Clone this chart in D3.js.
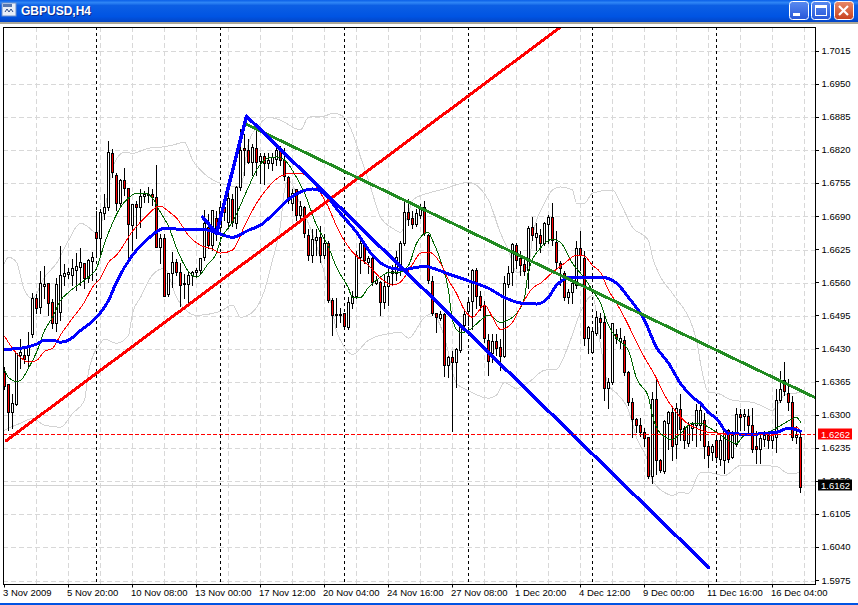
<!DOCTYPE html>
<html>
<head>
<meta charset="utf-8">
<script src="https://cdn.jsdelivr.net/npm/d3@7"></script>
<style>
  html, body { margin: 0; padding: 0; background: #fff; overflow: hidden; }
  text { font-family: "Liberation Sans", Arial, sans-serif; }
</style>
</head>
<body>
<div id="container"></div>
<script>
const width = 858,
  height = 605,
  margin = { top: 27, bottom: 584, left: 3, right: 815 };

/** -------------- DATA -------------- */

const highs = [
  1.6396,1.6360,1.6343,1.6421,1.6451,1.6433,1.6466,1.6541,1.6539,1.6584,
  1.6594,1.6561,1.6529,1.6571,1.6633,1.6598,1.6590,1.6608,1.6620,1.6631,
  1.6600,1.6608,1.6622,1.6702,1.6706,1.6736,1.6840,1.6824,1.6777,1.6765,
  1.6787,1.6746,1.6716,1.6722,1.6746,1.6742,1.6750,1.6746,1.6793,1.6657,
  1.6657,1.6580,1.6622,1.6608,1.6600,1.6579,1.6584,1.6584,1.6590,1.6610,
  1.6704,1.6696,1.6704,1.6702,1.6716,1.6722,1.6738,1.6736,1.6752,1.6864,
  1.6854,1.6844,1.6834,1.6860,1.6816,1.6816,1.6816,1.6816,1.6826,1.6830,
  1.6826,1.6771,1.6746,1.6746,1.6722,1.6712,1.6667,1.6667,1.6667,1.6673,
  1.6657,1.6643,1.6531,1.6531,1.6512,1.6502,1.6533,1.6545,1.6624,1.6647,
  1.6643,1.6614,1.6614,1.6575,1.6565,1.6579,1.6594,1.6596,1.6624,1.6643,
  1.6726,1.6726,1.6702,1.6706,1.6716,1.6722,1.6657,1.6575,1.6502,1.6506,
  1.6502,1.6417,1.6427,1.6433,1.6482,1.6506,1.6529,1.6588,1.6590,1.6545,
  1.6525,1.6461,1.6461,1.6461,1.6451,1.6575,1.6594,1.6639,1.6639,1.6624,
  1.6614,1.6673,1.6691,1.6679,1.6667,1.6681,1.6694,1.6718,1.6663,1.6604,
  1.6584,1.6549,1.6565,1.6643,1.6663,1.6624,1.6476,1.6474,1.6506,1.6502,
  1.6496,1.6374,1.6482,1.6470,1.6472,1.6457,1.6388,1.6335,1.6297,1.6297,
  1.6276,1.6258,1.6348,1.6372,1.6215,1.6293,1.6309,1.6319,1.6325,1.6343,
  1.6280,1.6289,1.6289,1.6323,1.6319,1.6305,1.6250,1.6246,1.6260,1.6266,
  1.6276,1.6274,1.6270,1.6315,1.6313,1.6313,1.6313,1.6315,1.6270,1.6266,
  1.6270,1.6266,1.6270,1.6354,1.6388,1.6407,1.6372,1.6339,1.6280,1.6266
];
const lows = [
  1.6352,1.6270,1.6274,1.6319,1.6392,1.6402,1.6394,1.6453,1.6500,1.6500,
  1.6529,1.6496,1.6470,1.6466,1.6486,1.6555,1.6569,1.6555,1.6545,1.6555,
  1.6549,1.6561,1.6565,1.6614,1.6614,1.6685,1.6702,1.6767,1.6702,1.6712,
  1.6732,1.6598,1.6624,1.6647,1.6669,1.6718,1.6718,1.6712,1.6630,1.6598,
  1.6533,1.6533,1.6551,1.6575,1.6514,1.6529,1.6520,1.6555,1.6571,1.6577,
  1.6604,1.6628,1.6624,1.6643,1.6653,1.6683,1.6667,1.6671,1.6667,1.6742,
  1.6771,1.6795,1.6771,1.6771,1.6755,1.6753,1.6785,1.6781,1.6791,1.6791,
  1.6761,1.6716,1.6702,1.6683,1.6687,1.6649,1.6604,1.6600,1.6614,1.6600,
  1.6608,1.6522,1.6457,1.6472,1.6482,1.6468,1.6468,1.6510,1.6529,1.6579,
  1.6598,1.6579,1.6555,1.6557,1.6496,1.6510,1.6516,1.6555,1.6565,1.6575,
  1.6633,1.6673,1.6667,1.6671,1.6687,1.6653,1.6559,1.6496,1.6464,1.6486,
  1.6376,1.6374,1.6268,1.6356,1.6423,1.6468,1.6476,1.6468,1.6510,1.6506,
  1.6443,1.6378,1.6404,1.6417,1.6388,1.6413,1.6551,1.6555,1.6588,1.6575,
  1.6575,1.6549,1.6643,1.6624,1.6620,1.6633,1.6637,1.6633,1.6588,1.6555,
  1.6525,1.6520,1.6520,1.6549,1.6584,1.6437,1.6421,1.6421,1.6457,1.6451,
  1.6329,1.6313,1.6360,1.6441,1.6431,1.6378,1.6319,1.6256,1.6266,1.6258,
  1.6240,1.6177,1.6166,1.6185,1.6189,1.6187,1.6234,1.6211,1.6215,1.6250,
  1.6236,1.6240,1.6250,1.6240,1.6250,1.6215,1.6197,1.6211,1.6207,1.6201,
  1.6187,1.6207,1.6215,1.6240,1.6270,1.6270,1.6264,1.6227,1.6205,1.6205,
  1.6240,1.6236,1.6236,1.6227,1.6325,1.6339,1.6309,1.6250,1.6246,1.6148
];
const opens = [
  1.6384,1.6360,1.6305,1.6321,1.6417,1.6417,1.6417,1.6459,1.6529,1.6512,
  1.6553,1.6559,1.6522,1.6480,1.6502,1.6573,1.6577,1.6575,1.6584,1.6590,
  1.6598,1.6569,1.6602,1.6659,1.6647,1.6696,1.6708,1.6814,1.6771,1.6716,
  1.6761,1.6746,1.6673,1.6714,1.6708,1.6730,1.6734,1.6734,1.6728,1.6630,
  1.6647,1.6537,1.6579,1.6600,1.6580,1.6557,1.6557,1.6575,1.6580,1.6584,
  1.6610,1.6669,1.6633,1.6687,1.6669,1.6708,1.6679,1.6724,1.6677,1.6748,
  1.6824,1.6820,1.6797,1.6824,1.6799,1.6809,1.6795,1.6795,1.6803,1.6820,
  1.6801,1.6767,1.6716,1.6744,1.6693,1.6708,1.6653,1.6614,1.6643,1.6649,
  1.6614,1.6637,1.6525,1.6498,1.6496,1.6500,1.6472,1.6520,1.6533,1.6610,
  1.6637,1.6600,1.6608,1.6559,1.6561,1.6522,1.6553,1.6579,1.6579,1.6594,
  1.6637,1.6698,1.6687,1.6675,1.6693,1.6708,1.6653,1.6563,1.6500,1.6490,
  1.6498,1.6398,1.6413,1.6404,1.6427,1.6476,1.6504,1.6523,1.6584,1.6533,
  1.6516,1.6447,1.6421,1.6445,1.6433,1.6415,1.6557,1.6580,1.6633,1.6608,
  1.6596,1.6584,1.6669,1.6649,1.6653,1.6637,1.6675,1.6689,1.6639,1.6598,
  1.6579,1.6531,1.6541,1.6555,1.6628,1.6608,1.6451,1.6423,1.6462,1.6490,
  1.6482,1.6354,1.6364,1.6459,1.6445,1.6447,1.6384,1.6325,1.6293,1.6280,
  1.6266,1.6256,1.6181,1.6331,1.6211,1.6191,1.6284,1.6305,1.6244,1.6311,
  1.6274,1.6246,1.6274,1.6280,1.6280,1.6291,1.6240,1.6227,1.6250,1.6213,
  1.6211,1.6270,1.6217,1.6244,1.6303,1.6299,1.6299,1.6280,1.6240,1.6234,
  1.6252,1.6260,1.6250,1.6256,1.6329,1.6368,1.6344,1.6325,1.6256,1.6256
];
const closes = [
  1.6358,1.6305,1.6323,1.6421,1.6423,1.6411,1.6433,1.6529,1.6510,1.6559,
  1.6557,1.6520,1.6480,1.6557,1.6575,1.6579,1.6580,1.6588,1.6592,1.6600,
  1.6569,1.6604,1.6610,1.6647,1.6698,1.6708,1.6816,1.6777,1.6716,1.6761,
  1.6746,1.6675,1.6714,1.6708,1.6730,1.6734,1.6732,1.6728,1.6630,1.6647,
  1.6533,1.6579,1.6600,1.6580,1.6555,1.6559,1.6575,1.6580,1.6584,1.6608,
  1.6677,1.6633,1.6702,1.6659,1.6708,1.6698,1.6726,1.6679,1.6748,1.6820,
  1.6820,1.6797,1.6826,1.6797,1.6809,1.6795,1.6801,1.6807,1.6820,1.6801,
  1.6769,1.6722,1.6736,1.6693,1.6710,1.6657,1.6614,1.6645,1.6649,1.6614,
  1.6637,1.6525,1.6496,1.6496,1.6498,1.6474,1.6522,1.6533,1.6614,1.6637,
  1.6604,1.6608,1.6561,1.6565,1.6522,1.6553,1.6573,1.6582,1.6610,1.6637,
  1.6698,1.6685,1.6675,1.6696,1.6706,1.6657,1.6565,1.6500,1.6492,1.6498,
  1.6398,1.6413,1.6404,1.6429,1.6476,1.6498,1.6522,1.6584,1.6533,1.6516,
  1.6451,1.6407,1.6445,1.6431,1.6415,1.6559,1.6579,1.6635,1.6604,1.6594,
  1.6582,1.6667,1.6653,1.6657,1.6637,1.6677,1.6689,1.6643,1.6600,1.6588,
  1.6531,1.6541,1.6559,1.6628,1.6614,1.6451,1.6472,1.6466,1.6492,1.6482,
  1.6354,1.6364,1.6480,1.6451,1.6451,1.6384,1.6325,1.6293,1.6280,1.6266,
  1.6254,1.6181,1.6331,1.6211,1.6193,1.6289,1.6305,1.6240,1.6313,1.6272,
  1.6250,1.6280,1.6282,1.6309,1.6309,1.6240,1.6221,1.6240,1.6217,1.6250,
  1.6270,1.6213,1.6260,1.6303,1.6297,1.6303,1.6280,1.6234,1.6234,1.6254,
  1.6260,1.6250,1.6260,1.6329,1.6352,1.6348,1.6325,1.6256,1.6260,1.6158
];

// moving averages and bands, read at the bars listed beside them
const slowBars = [0,4,8,10,12,14,16,19,23,26,28,32,36,40,44,49,52,57,61,64,67,71,74,77,79,84,88,92,95,97,100,103,105,108,111,114,117,121,125,129,133,136,138,142,149,153,156,160,163,166,169,172,174,176,178,181,187,190,193,196,199];
const slowMa = [1.6429,1.6431,1.6439,1.6447,1.6447,1.6443,1.6447,1.6466,1.6492,1.6525,1.6561,1.6614,1.6647,1.6667,1.6665,1.6665,1.6661,1.6649,1.6663,1.6673,1.6693,1.6724,1.6738,1.6744,1.6740,1.6696,1.6659,1.6614,1.6594,1.6588,1.6586,1.6590,1.6592,1.6586,1.6577,1.6569,1.6561,1.6549,1.6531,1.6520,1.6518,1.6531,1.6555,1.6571,1.6571,1.6559,1.6531,1.6486,1.6433,1.6402,1.6362,1.6335,1.6323,1.6305,1.6293,1.6264,1.6262,1.6264,1.6266,1.6274,1.6268];

const fastBars = [0,1,3,4,6,8,10,12,14,16,19,21,23,25,27,29,31,33,35,37,39,41,43,46,48,51,53,54,57,61,63,66,68,70,73,75,78,81,83,86,87,89,91,94,96,98,101,103,106,107,109,111,112,114,116,119,121,124,127,130,131,134,137,139,142,145,147,149,151,153,156,158,161,162,164,167,169,172,174,176,178,181,183,185,189,192,195,198,199];
const fastMa = [1.6388,1.6374,1.6366,1.6368,1.6392,1.6423,1.6466,1.6492,1.6525,1.6541,1.6559,1.6571,1.6588,1.6637,1.6677,1.6708,1.6726,1.6736,1.6736,1.6726,1.6698,1.6671,1.6628,1.6582,1.6571,1.6598,1.6618,1.6643,1.6679,1.6748,1.6781,1.6805,1.6807,1.6801,1.6767,1.6736,1.6673,1.6630,1.6590,1.6549,1.6531,1.6531,1.6551,1.6571,1.6580,1.6579,1.6594,1.6637,1.6659,1.6643,1.6604,1.6545,1.6486,1.6462,1.6466,1.6486,1.6496,1.6482,1.6492,1.6531,1.6584,1.6628,1.6645,1.6639,1.6598,1.6569,1.6545,1.6520,1.6476,1.6451,1.6427,1.6372,1.6335,1.6299,1.6264,1.6252,1.6264,1.6284,1.6284,1.6276,1.6266,1.6250,1.6244,1.6260,1.6262,1.6270,1.6284,1.6295,1.6286];

const midBars = [0,3,6,8,10,12,14,17,20,22,24,26,28,32,35,38,39,41,43,46,49,52,54,57,60,63,66,69,72,75,78,81,83,86,88,91,94,97,99,102,104,106,109,111,113,115,117,120,122,124,127,129,132,134,137,140,143,145,147,149,151,153,156,158,160,163,165,168,171,173,176,180,185,190,192,196,198,199];
const midMa = [1.6455,1.6421,1.6404,1.6407,1.6425,1.6431,1.6457,1.6490,1.6522,1.6551,1.6569,1.6600,1.6614,1.6661,1.6687,1.6708,1.6710,1.6700,1.6687,1.6653,1.6633,1.6626,1.6618,1.6624,1.6671,1.6716,1.6748,1.6769,1.6775,1.6773,1.6748,1.6708,1.6671,1.6630,1.6612,1.6594,1.6569,1.6555,1.6561,1.6596,1.6618,1.6620,1.6598,1.6565,1.6539,1.6506,1.6492,1.6516,1.6492,1.6468,1.6482,1.6512,1.6549,1.6559,1.6580,1.6598,1.6614,1.6612,1.6594,1.6580,1.6545,1.6520,1.6476,1.6443,1.6413,1.6372,1.6339,1.6305,1.6282,1.6274,1.6266,1.6264,1.6262,1.6262,1.6260,1.6276,1.6276,1.6270];

const upperBars = [0,1,3,5,7,10,13,16,19,21,23,26,27,30,32,36,39,42,45,47,49,54,59,61,64,66,69,74,76,80,82,85,87,89,91,94,97,99,101,102,106,109,116,121,124,126,128,131,132,135,137,139,142,143,145,147,152,154,157,161,162,164,167,173,174,176,178,182,187,189,192,195,199];
const upperBand = [1.6598,1.6610,1.6600,1.6545,1.6529,1.6571,1.6598,1.6643,1.6677,1.6669,1.6657,1.6742,1.6787,1.6816,1.6814,1.6824,1.6826,1.6830,1.6836,1.6801,1.6781,1.6755,1.6748,1.6834,1.6873,1.6885,1.6879,1.6860,1.6885,1.6887,1.6893,1.6885,1.6854,1.6807,1.6761,1.6689,1.6667,1.6659,1.6696,1.6722,1.6736,1.6742,1.6757,1.6722,1.6657,1.6624,1.6580,1.6594,1.6649,1.6716,1.6742,1.6748,1.6742,1.6716,1.6716,1.6736,1.6742,1.6716,1.6669,1.6643,1.6610,1.6571,1.6539,1.6447,1.6402,1.6344,1.6343,1.6329,1.6325,1.6319,1.6309,1.6339,1.6344];

const lowerBars = [0,1,4,7,10,14,17,20,21,24,25,28,31,32,34,37,40,43,48,54,57,59,62,65,67,69,70,71,74,78,81,83,85,87,91,97,99,101,105,107,110,113,116,121,123,125,128,131,135,138,141,144,147,149,151,153,156,158,161,162,165,167,169,171,174,176,180,184,188,193,196,199];
const lowerBand = [1.6270,1.6274,1.6284,1.6293,1.6280,1.6276,1.6303,1.6329,1.6385,1.6441,1.6449,1.6441,1.6457,1.6500,1.6531,1.6575,1.6588,1.6531,1.6496,1.6504,1.6516,1.6492,1.6502,1.6545,1.6604,1.6673,1.6742,1.6761,1.6712,1.6633,1.6545,1.6466,1.6433,1.6419,1.6447,1.6461,1.6462,1.6451,1.6492,1.6500,1.6453,1.6362,1.6348,1.6333,1.6339,1.6364,1.6352,1.6364,1.6388,1.6390,1.6437,1.6502,1.6535,1.6437,1.6358,1.6343,1.6309,1.6256,1.6205,1.6172,1.6148,1.6142,1.6148,1.6146,1.6187,1.6187,1.6181,1.6201,1.6201,1.6199,1.6185,1.6187];

// hand drawn objects: [bar, price] anchors
const redTrendBars = [0.5, 139], redTrendPrices = [1.6250, 1.7062];
const greenTrendBars = [60.5, 203], greenTrendPrices = [1.6871, 1.6333];
const blueTrendBars = [49.5, 53, 60.5, 176], blueTrendPrices = [1.6689, 1.6657, 1.6887, 1.6001];

const yTicks = [1.7015,1.6950,1.6885,1.6820,1.6755,1.6690,1.6625,1.6560,1.6495,1.6430,1.6365,1.6300,1.6235,1.6170,1.6105,1.6040,1.5975];
const xTickBars = [0,16,32,48,64,80,96,112,128,144,160,176,192];
const xTickLabels = ["3 Nov 2009","5 Nov 20:00","10 Nov 08:00","13 Nov 00:00","17 Nov 12:00","20 Nov 04:00","24 Nov 16:00","27 Nov 08:00","1 Dec 20:00","4 Dec 12:00","9 Dec 00:00","11 Dec 16:00","16 Dec 04:00"];
const gridBars = [8,16,24,32,40,48,56,64,72,80,88,96,104,112,120,128,136,144,152,160,168,176,184,192,200];
const separatorBars = [23,54,85,116,147,178];
const levelPrice = 1.6262, bidPrice = 1.6162;

/** -------------- SCALES -------------- */

const x = d3.scaleLinear([0, 199], [4.5, 800.5]);
const y = d3.scaleLinear([1.5975, 1.7015], [580.5, 51]);
const px = v => Math.round(v) + 0.5;

const bars = highs.map((h, i) => ({ i, h, l: lows[i], o: opens[i], c: closes[i] }));

/** -------------- APPEND TO DOM -------------- */

const svg = d3.select("#container")
  .append("svg")
    .attr("width", width)
    .attr("height", height)
    .style("display", "block");

const defs = svg.append("defs");
const gradient = (id, stops) => defs.append("linearGradient")
    .attr("id", id).attr("x1", 0).attr("x2", 0).attr("y1", 0).attr("y2", 1)
  .selectAll("stop").data(stops).join("stop")
    .attr("offset", d => d[0]).attr("stop-color", d => d[1]);
gradient("title", [[0, "#0a5fe8"], [0.12, "#2f86f5"], [0.25, "#0c5fe4"], [0.75, "#0054e3"], [1, "#0345c6"]]);
gradient("btn", [[0, "#5a8bf0"], [1, "#2656d8"]]);
gradient("close", [[0, "#e88a6a"], [1, "#c8401c"]]);

defs.append("clipPath").attr("id", "plot")
  .append("rect")
    .attr("x", margin.left).attr("y", margin.top)
    .attr("width", margin.right - margin.left).attr("height", margin.bottom - margin.top);

/** -------------- WINDOW CHROME -------------- */

svg.append("rect").attr("y", height - 2).attr("width", width).attr("height", 2).attr("fill", "#0054e3");
svg.append("rect").attr("width", width).attr("height", 22).attr("fill", "url(#title)");
svg.append("rect").attr("y", 22).attr("width", width).attr("height", 2).attr("fill", "#aca899");

const icon = svg.append("g");
icon.append("rect").attr("x", 2).attr("y", 3).attr("width", 14).attr("height", 13).attr("fill", "#e8eef8").attr("stroke", "#6f8fc8");
icon.append("rect").attr("x", 3).attr("y", 4).attr("width", 9).attr("height", 3).attr("fill", "#5878b0");
icon.append("path").attr("d", "M5 12l2-3 2 3 2-3 2 3").attr("fill", "none").attr("stroke", "#2c4a86");

svg.append("text").attr("x", 22).attr("y", 16).attr("fill", "#0a2a8a")
    .attr("font-size", 12).attr("font-weight", "bold").text("GBPUSD,H4");
svg.append("text").attr("x", 21).attr("y", 15).attr("fill", "#fff")
    .attr("font-size", 12).attr("font-weight", "bold").text("GBPUSD,H4");

const buttons = svg.append("g");
[[789, "url(#btn)"], [811, "url(#btn)"], [834, "url(#close)"]].forEach(([bx, fill]) => {
  buttons.append("rect").attr("x", bx + 0.5).attr("y", 1.5).attr("width", 19).attr("height", 18).attr("rx", 3)
    .attr("fill", fill).attr("stroke", "#fff");
});
buttons.append("rect").attr("x", 793).attr("y", 13).attr("width", 7).attr("height", 3).attr("fill", "#fff");
buttons.append("rect").attr("x", 815.5).attr("y", 5.5).attr("width", 11).attr("height", 10).attr("fill", "none").attr("stroke", "#fff");
buttons.append("rect").attr("x", 815).attr("y", 5).attr("width", 12).attr("height", 3).attr("fill", "#fff");
buttons.append("path").attr("d", "M839 6l9 9M848 6l-9 9").attr("stroke", "#fff").attr("stroke-width", 2.2);

/** -------------- GRID -------------- */

const chart = svg.append("g");

chart.append("g")
  .selectAll("line").data(yTicks).join("line")
    .attr("x1", margin.left).attr("x2", margin.right)
    .attr("y1", d => px(y(d))).attr("y2", d => px(y(d)))
    .attr("stroke", "#d8d8d8").attr("stroke-dasharray", "5 3");

chart.append("g")
  .selectAll("line").data(gridBars).join("line")
    .attr("x1", d => x(d)).attr("x2", d => x(d))
    .attr("y1", margin.top).attr("y2", margin.bottom)
    .attr("stroke", "#d8d8d8").attr("stroke-dasharray", "5 3");

chart.append("g")
  .selectAll("line").data(separatorBars).join("line")
    .attr("x1", d => x(d)).attr("x2", d => x(d))
    .attr("y1", margin.top).attr("y2", margin.bottom)
    .attr("stroke", "#000").attr("stroke-dasharray", "3 3");

/** -------------- LEVELS AND BANDS -------------- */

const plot = chart.append("g").attr("clip-path", "url(#plot)");

plot.append("line")
    .attr("x1", margin.left).attr("x2", margin.right)
    .attr("y1", px(y(bidPrice))).attr("y2", px(y(bidPrice)))
    .attr("stroke", "#d3d3d3");

const smooth = d3.line().x(d => x(d[0])).y(d => y(d[1])).curve(d3.curveMonotoneX);
const straight = d3.line().x(d => x(d[0])).y(d => y(d[1]));

// the terminal draws without anti-aliasing, so the thin lines stay crisp
const drawLine = (gen, xs, ys, color, w) => plot.append("path")
    .attr("d", gen(xs.map((b, i) => [b, ys[i]])))
    .attr("fill", "none")
    .attr("stroke", color)
    .attr("stroke-width", w)
    .attr("stroke-linejoin", "round")
    .attr("stroke-linecap", "round")
    .attr("shape-rendering", "crispEdges");

drawLine(smooth, upperBars, upperBand, "#d3d3d3", 1);
drawLine(smooth, lowerBars, lowerBand, "#d3d3d3", 1);

plot.append("path")
    .attr("d", d3.symbol(d3.symbolTriangle, 30)())
    .attr("transform", `translate(${x(182)},${y(1.7070)}) rotate(180)`)
    .attr("fill", "#d3d3d3");

/** -------------- CANDLES -------------- */

const candles = plot.append("g").attr("shape-rendering", "crispEdges");

candles.selectAll("line").data(bars).join("line")
    .attr("x1", d => x(d.i)).attr("x2", d => x(d.i))
    .attr("y1", d => px(y(d.h))).attr("y2", d => px(y(d.l)))
    .attr("stroke", "#000");

candles.selectAll("rect").data(bars).join("rect")
    .attr("x", d => x(d.i) - 1)
    .attr("width", 2)
    .attr("y", d => px(y(Math.max(d.o, d.c))))
    .attr("height", d => Math.max(1, px(y(Math.min(d.o, d.c))) - px(y(Math.max(d.o, d.c)))))
    .attr("fill", d => d.c < d.o ? "#f00" : "#fff")
    .attr("stroke", "#000");

/** -------------- INDICATORS AND OBJECTS -------------- */

drawLine(smooth, fastBars, fastMa, "#006400", 1);
drawLine(smooth, midBars, midMa, "#f00", 1);
drawLine(smooth, slowBars, slowMa, "#00f", 3);

drawLine(straight, redTrendBars, redTrendPrices, "#f00", 3);
drawLine(straight, greenTrendBars, greenTrendPrices, "#228b22", 3);
drawLine(straight, blueTrendBars, blueTrendPrices, "#00f", 3.5);

plot.append("line")
    .attr("x1", margin.left).attr("x2", margin.right)
    .attr("y1", px(y(levelPrice))).attr("y2", px(y(levelPrice)))
    .attr("stroke", "#f00").attr("stroke-dasharray", "4 2");

/** -------------- FRAME AND AXES -------------- */

chart.append("rect")
    .attr("x", margin.left + 0.5).attr("y", margin.top + 0.5)
    .attr("width", margin.right - margin.left).attr("height", margin.bottom - margin.top)
    .attr("fill", "none").attr("stroke", "#000");

const xAxis = chart.append("g")
    .attr("transform", `translate(0,${margin.bottom + 0.5})`)
    .call(d3.axisBottom(x).tickValues(xTickBars).tickFormat((d, i) => xTickLabels[i]).tickSize(3).offset(0));
xAxis.select(".domain").remove();
xAxis.selectAll("text")
    .attr("text-anchor", "start")
    .attr("dx", -1.5)
    .attr("y", 5)
    .attr("dy", "0.71em")
    .attr("font-family", "Liberation Sans")
    .attr("font-size", 9.5)
    .attr("fill", "#000");

const yAxis = chart.append("g")
    .attr("transform", `translate(${margin.right + 0.5},0)`)
    .call(d3.axisRight(y).tickValues(yTicks).tickFormat(d3.format(".4f")).tickSize(3).offset(0));
yAxis.select(".domain").remove();
yAxis.selectAll("line").attr("shape-rendering", "crispEdges");
yAxis.selectAll("text")
    .attr("x", 6)
    .attr("font-family", "Liberation Sans")
    .attr("font-size", 9.5)
    .attr("fill", "#000");

/** -------------- PRICE LABELS -------------- */

const priceLabel = (price, bg) => {
  const cy = px(y(price));
  chart.append("rect").attr("x", 818).attr("y", cy - 6).attr("width", 34).attr("height", 11).attr("fill", bg);
  chart.append("text")
      .attr("x", 821).attr("y", cy + 3.5)
      .attr("font-size", 9.5).attr("fill", "#fff")
      .text(d3.format(".4f")(price));
};
priceLabel(levelPrice, "#f00");
priceLabel(bidPrice, "#000");
</script>
</body>
</html>
